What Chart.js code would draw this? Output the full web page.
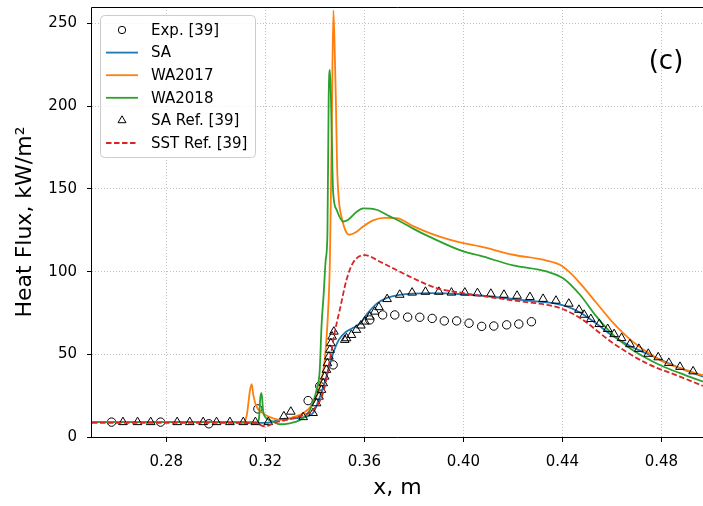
<!DOCTYPE html>
<html>
<head>
<meta charset="utf-8">
<script src="https://cdn.jsdelivr.net/npm/chart.js@4.4.0/dist/chart.umd.min.js"></script>
<style>
  html, body { margin: 0; padding: 0; background: #fff; }
  #wrap { width: 703px; height: 506px; }
</style>
</head>
<body>
<div id="wrap"><canvas id="grafico" width="703" height="506"></canvas></div>
<script>
// Exp. [39]
const expX = [0.2579, 0.2777, 0.2972, 0.3170, 0.3373, 0.3420, 0.3474, 0.3622, 0.3674, 0.3723, 0.3775,
  0.3824, 0.3874, 0.3923, 0.3973, 0.4023, 0.4074, 0.4123, 0.4175, 0.4224, 0.4275];
const expY = [9, 9, 8, 17, 22, 30.8, 43.6, 70.8, 73.8, 73.8, 72.5,
  72.4, 71.7, 70.2, 70.2, 68.8, 66.9, 67.1, 67.8, 68.3, 69.7];

// SA
const saX = [0.25, 0.30, 0.320, 0.3235, 0.327, 0.333, 0.337, 0.3395, 0.342, 0.3447, 0.3474, 0.3498,
  0.3525, 0.3555, 0.3585, 0.3609, 0.3649, 0.3689, 0.3743, 0.3864, 0.400, 0.4134, 0.4269, 0.4377,
  0.442, 0.4471, 0.4538, 0.4605, 0.4673, 0.474, 0.4807, 0.4875, 0.4968];
const saY = [9, 9, 8.5, 9.5, 11, 11.5, 12.5, 15, 24, 36.5, 50.5, 59,
  63.5, 66, 69, 74, 80.5, 84, 86, 87, 86.3, 84.5, 82.3, 80.5,
  78.8, 75.3, 68.5, 61, 55, 50.5, 46, 41.6, 36.5];

// WA2017
const wa17X = [0.25, 0.311, 0.3125, 0.3138, 0.3145, 0.3152, 0.3164, 0.3191, 0.3231, 0.3272, 0.3312,
  0.3353, 0.3393, 0.342, 0.344, 0.3454, 0.3461, 0.3468, 0.3475, 0.3481, 0.3485, 0.349, 0.3497,
  0.3508, 0.3528, 0.3541, 0.3568, 0.3595, 0.3635, 0.368, 0.373, 0.3797, 0.3864, 0.393, 0.400,
  0.4067, 0.4201, 0.4336, 0.439, 0.443, 0.4471, 0.4538, 0.4605, 0.4673, 0.474, 0.4807, 0.4875, 0.4968];
const wa17Y = [9, 9, 13, 28, 32, 25, 18.5, 14.3, 11.3, 10.3, 12,
  14.3, 20.4, 30.5, 46.6, 77, 107, 180, 258, 230, 204, 164, 143.5,
  133, 123.5, 122.3, 124, 127.3, 131, 132.5, 132.4, 127.5, 123.3, 120, 117.2,
  115.2, 110.2, 106.7, 104.1, 99.5, 93, 81, 69, 59, 51.6, 45.6, 41.6, 37.3];

// WA2018
const wa18X = [0.25, 0.317, 0.3175, 0.318, 0.3185, 0.3191, 0.320, 0.3218, 0.3259, 0.3299, 0.334,
  0.338, 0.3407, 0.342, 0.3427, 0.3436, 0.3444, 0.3451, 0.3456, 0.3461, 0.3466, 0.3471, 0.3474,
  0.3488, 0.3514, 0.3535, 0.3568, 0.3595, 0.3649, 0.3703, 0.3757, 0.3797, 0.3864, 0.400, 0.4067,
  0.4201, 0.4336, 0.4403, 0.4471, 0.4538, 0.4605, 0.4673, 0.474, 0.4807, 0.4875, 0.4968];
const wa18Y = [9, 9, 12, 24, 26.5, 16, 12, 10.3, 7.7, 8.3, 10.3,
  16.3, 28.5, 40.6, 66.8, 87, 107, 123, 205, 222, 200, 163, 148,
  137.4, 130.3, 131.4, 136, 138.2, 137.4, 133.4, 129.4, 126, 121, 112.2, 109.6,
  103.8, 100.1, 96, 86, 72.8, 61.7, 53.7, 47.6, 42.6, 38.6, 33.5];

// SA Ref. [39]
const saRefX = [0.2625, 0.2684, 0.2737, 0.2844, 0.2895, 0.2949, 0.3003, 0.3057, 0.3111, 0.3160, 0.3212,
  0.3275, 0.3303, 0.3353, 0.3393, 0.3407, 0.3417, 0.3427, 0.3434, 0.3440, 0.3447, 0.3451, 0.3457,
  0.3461, 0.3465, 0.3470, 0.3477, 0.3521, 0.3528, 0.3548, 0.3568, 0.3586, 0.3602, 0.3622, 0.3642,
  0.3659, 0.3692, 0.3743, 0.3793, 0.3847, 0.3901, 0.3952, 0.4006, 0.4057, 0.4111, 0.4164, 0.4217,
  0.4269, 0.4322, 0.4374, 0.4426, 0.4467, 0.4488, 0.4515, 0.4549, 0.4583, 0.4609, 0.4639, 0.4673,
  0.4709, 0.4747, 0.4787, 0.4830, 0.4875, 0.4928];
const saRefY = [9, 9, 9, 9, 9, 9, 9, 9, 9, 9, 9,
  12.5, 15.3, 12, 14.5, 20.4, 24.4, 28.5, 32.5, 36.5, 40.6, 44.6, 48.6,
  52.7, 56.7, 60.7, 63.7, 58.7, 59.7, 61.7, 64.8, 67.4, 69.8, 72.8, 75.8,
  78.5, 83.4, 86, 87.3, 87.8, 87.8, 87.3, 87.3, 87, 86.6, 86, 85.4,
  84.6, 83.5, 82.4, 80.6, 76.9, 73.9, 71.3, 68.3, 65.3, 62.2, 59.8, 56.1,
  53.3, 50.3, 48.2, 44.8, 42.4, 39.7];

// SST Ref. [39]
const sstX = [0.25, 0.316, 0.3195, 0.3215, 0.323, 0.3286, 0.3353, 0.3393, 0.3434, 0.3461, 0.3481,
  0.3501, 0.3528, 0.3555, 0.3602, 0.3663, 0.373, 0.3797, 0.3892, 0.400, 0.4134, 0.4269, 0.4336,
  0.439, 0.4471, 0.4605, 0.474, 0.4875, 0.4968];
const sstY = [8.5, 8.5, 6.5, 7, 8.3, 10.3, 13.3, 16.3, 27, 46.6, 63.7,
  77, 95, 105.5, 110, 106, 101, 96, 90, 87, 84, 81.3, 80,
  78, 72, 56.7, 44.6, 36.5, 30.9];

const xTicks = [0.28, 0.32, 0.36, 0.40, 0.44, 0.48];
const yTicks = [0, 50, 100, 150, 200, 250];

const aPuntos = (xs, ys) => xs.map((x, i) => ({ x: x, y: ys[i] }));

Chart.defaults.font.family = '"DejaVu Sans", sans-serif';
Chart.defaults.color = '#000';

// bordes superior, izquierdo e inferior del area de dibujo, y etiqueta (c)
const marco = {
  id: 'marco',
  afterDraw(chart) {
    const { ctx, chartArea: a } = chart;
    const l = Math.round(a.left) - 0.5, t = Math.round(a.top) + 0.5, b = Math.round(a.bottom) + 0.5;
    ctx.save();
    ctx.strokeStyle = '#000';
    ctx.lineWidth = 1;
    ctx.beginPath();
    ctx.moveTo(a.right, t);
    ctx.lineTo(l, t);
    ctx.lineTo(l, b);
    ctx.lineTo(a.right, b);
    ctx.stroke();
    ctx.font = '26px "DejaVu Sans"';
    ctx.fillStyle = '#000';
    ctx.textAlign = 'center';
    ctx.textBaseline = 'middle';
    ctx.fillText('(c)', 666, 62);
    ctx.restore();
  }
};

// leyenda dentro del grafico, arriba a la izquierda
const leyenda = {
  id: 'leyenda',
  afterDraw(chart) {
    const ctx = chart.ctx;
    ctx.save();
    ctx.fillStyle = 'rgba(255,255,255,0.8)';
    ctx.strokeStyle = '#cccccc';
    ctx.lineWidth = 1;
    ctx.beginPath();
    ctx.roundRect(100.5, 15.5, 155, 142, 4);
    ctx.fill();
    ctx.stroke();
    ctx.font = '15px "DejaVu Sans"';
    ctx.textBaseline = 'middle';
    chart.data.datasets.forEach((ds, i) => {
      const y = 30 + i * 22.6;
      const xm = 122;
      ctx.save();
      if (ds.showLine) {
        ctx.strokeStyle = ds.borderColor;
        ctx.lineWidth = ds.borderWidth;
        ctx.setLineDash(ds.borderDash || []);
        ctx.beginPath();
        ctx.moveTo(106, y);
        ctx.lineTo(138, y);
        ctx.stroke();
      } else {
        ctx.strokeStyle = ds.pointBorderColor;
        ctx.lineWidth = ds.pointBorderWidth;
        ctx.beginPath();
        if (ds.pointStyle === 'circle') {
          ctx.arc(xm, y, 3.7, 0, Math.PI * 2);
        } else {
          const r = 4.6;
          ctx.moveTo(xm, y - r);
          ctx.lineTo(xm + r * 0.866, y + r * 0.5);
          ctx.lineTo(xm - r * 0.866, y + r * 0.5);
          ctx.closePath();
        }
        ctx.stroke();
      }
      ctx.restore();
      ctx.fillStyle = '#000';
      ctx.fillText(ds.label, 151, y + 1);
    });
    ctx.restore();
  }
};

const linea = (label, xs, ys, color, extra) => Object.assign({
  label: label,
  data: aPuntos(xs, ys),
  showLine: true,
  borderColor: color,
  backgroundColor: color,
  borderWidth: 1.8,
  pointRadius: 0,
  pointHoverRadius: 0,
  cubicInterpolationMode: 'monotone'
}, extra || {});

const marcadores = (label, xs, ys, estilo, radio) => ({
  label: label,
  data: aPuntos(xs, ys),
  showLine: false,
  pointStyle: estilo,
  pointRadius: radio,
  pointBorderColor: '#000',
  pointBorderWidth: 1,
  pointBackgroundColor: 'rgba(0,0,0,0)',
  borderColor: '#000',
  backgroundColor: 'rgba(0,0,0,0)'
});

const datasets = [
  Object.assign(marcadores('Exp. [39]', expX, expY, 'circle', 4.2), { order: 6 }),
  linea('SA', saX, saY, '#1f77b4', { order: 5 }),
  linea('WA2017', wa17X, wa17Y, '#ff7f0e', { order: 4 }),
  linea('WA2018', wa18X, wa18Y, '#2ca02c', { order: 3 }),
  Object.assign(marcadores('SA Ref. [39]', saRefX, saRefY, 'triangle', 5), { order: 2 }),
  linea('SST Ref. [39]', sstX, sstY, '#d62728', { order: 1, borderDash: [5.5, 2.5] })
];

const gridComun = {
  color: '#b0b0b0',
  lineWidth: 0.8,
  drawTicks: true,
  tickLength: 5,
  tickColor: '#000',
  tickWidth: 1
};

new Chart(document.getElementById('grafico'), {
  type: 'scatter',
  data: { datasets: datasets },
  options: {
    responsive: false,
    devicePixelRatio: 1,
    animation: false,
    layout: { autoPadding: false, padding: { top: 7, right: 0, left: 0, bottom: 0 } },
    plugins: {
      legend: { display: false },
      tooltip: { enabled: false }
    },
    scales: {
      x: {
        type: 'linear',
        min: 0.25,
        max: 0.4968,
        afterBuildTicks: (s) => { s.ticks = xTicks.map(v => ({ value: v })); },
        afterFit: (s) => { s.height = 69; s.paddingLeft = 0; s.paddingRight = 0; },
        grid: gridComun,
        border: { display: false, dash: [1, 2] },
        ticks: {
          font: { size: 15 },
          padding: 11,
          maxRotation: 0,
          autoSkip: false,
          callback: (v) => v.toFixed(2)
        },
        title: {
          display: true,
          text: 'x, m',
          font: { size: 22 },
          padding: { top: 0, bottom: 5 }
        }
      },
      y: {
        type: 'linear',
        min: 0,
        max: 260,
        afterBuildTicks: (s) => { s.ticks = yTicks.map(v => ({ value: v })); },
        afterFit: (s) => { s.width = 92; s.paddingTop = 0; s.paddingBottom = 0; },
        grid: gridComun,
        border: { display: false, dash: [1, 2] },
        ticks: {
          font: { size: 15 },
          padding: 10,
          autoSkip: false,
          callback: (v) => String(v)
        },
        title: {
          display: true,
          text: 'Heat Flux, kW/m²',
          font: { size: 22 },
          padding: { top: 12, bottom: 0 }
        }
      }
    }
  },
  plugins: [marco, leyenda]
});
</script>
</body>
</html>
